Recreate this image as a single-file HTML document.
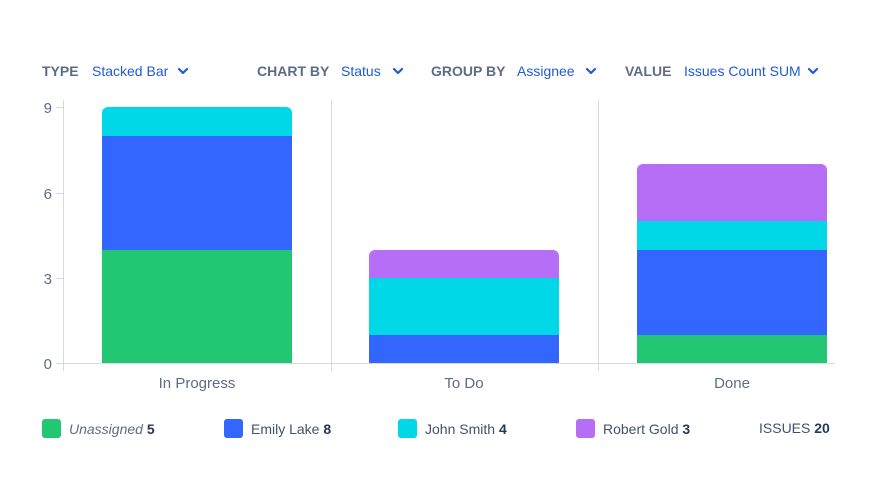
<!DOCTYPE html>
<html><head><style>
body{margin:0;background:#fff;width:870px;height:494px;overflow:hidden;font-family:"Liberation Sans",sans-serif}
</style></head><body>
<svg width="870" height="494" xmlns="http://www.w3.org/2000/svg" font-family="Liberation Sans, sans-serif">
<g font-size="14">
<text x="42" y="76" fill="#5e6c84" font-weight="bold">TYPE</text>
<text x="92" y="76" fill="#1f5bd6">Stacked Bar</text>
<text x="257" y="76" fill="#5e6c84" font-weight="bold">CHART BY</text>
<text x="341" y="76" fill="#1f5bd6">Status</text>
<text x="431" y="76" fill="#5e6c84" font-weight="bold">GROUP BY</text>
<text x="517" y="76" fill="#1f5bd6">Assignee</text>
<text x="625" y="76" fill="#5e6c84" font-weight="bold">VALUE</text>
<text x="684" y="76" fill="#1f5bd6">Issues Count SUM</text>
</g>
<g fill="none" stroke="#1f5bd6" stroke-width="2.2" stroke-linecap="round" stroke-linejoin="round">
<path d="M179 69l4 4 4-4"/><path d="M394 69l4 4 4-4"/><path d="M587 69l4 4 4-4"/><path d="M809 69l4 4 4-4"/>
</g>
<g stroke="#d6d9de" stroke-width="1">
<line x1="63.5" y1="100" x2="63.5" y2="371"/>
<line x1="331.5" y1="100" x2="331.5" y2="371"/>
<line x1="598.5" y1="100" x2="598.5" y2="371"/>
<line x1="56" y1="363.5" x2="835" y2="363.5"/>
<line x1="56" y1="278.5" x2="63" y2="278.5"/>
<line x1="56" y1="193.5" x2="63" y2="193.5"/>
<line x1="56" y1="107.5" x2="63" y2="107.5"/>
</g>
<g font-size="15" fill="#5e6c84" text-anchor="end">
<text x="52" y="369">0</text><text x="52" y="284">3</text><text x="52" y="199">6</text><text x="52" y="113">9</text>
</g>
<!-- In Progress -->
<path d="M102 249V113a6 6 0 0 1 6-6h178a6 6 0 0 1 6 6v136z" fill="#00d8e8"/>
<rect x="102" y="136" width="190" height="114" fill="#3366ff"/>
<rect x="102" y="250" width="190" height="113" fill="#23c673"/>
<!-- To Do -->
<path d="M369 278V256a6 6 0 0 1 6-6h178a6 6 0 0 1 6 6v22z" fill="#b76ef7"/>
<rect x="369" y="278" width="190" height="57" fill="#00d8e8"/>
<rect x="369" y="335" width="190" height="28" fill="#3366ff"/>
<!-- Done -->
<path d="M637 221V170a6 6 0 0 1 6-6h178a6 6 0 0 1 6 6v51z" fill="#b76ef7"/>
<rect x="637" y="221" width="190" height="29" fill="#00d8e8"/>
<rect x="637" y="250" width="190" height="85" fill="#3366ff"/>
<rect x="637" y="335" width="190" height="28" fill="#23c673"/>
<g font-size="15" fill="#5e6c84" text-anchor="middle">
<text x="197" y="388">In Progress</text><text x="464" y="388">To Do</text><text x="732" y="388">Done</text>
</g>
<g font-size="14" fill="#42526e">
<rect x="42" y="419" width="19" height="19" rx="3" fill="#23c673"/>
<text x="69" y="434"><tspan font-style="italic" fill="#5e6c84">Unassigned</tspan> <tspan font-weight="bold" fill="#253858">5</tspan></text>
<rect x="224" y="419" width="19" height="19" rx="3" fill="#3366ff"/>
<text x="251" y="434">Emily Lake <tspan font-weight="bold" fill="#253858">8</tspan></text>
<rect x="398" y="419" width="19" height="19" rx="3" fill="#00d8e8"/>
<text x="425" y="434">John Smith <tspan font-weight="bold" fill="#253858">4</tspan></text>
<rect x="576" y="419" width="19" height="19" rx="3" fill="#b76ef7"/>
<text x="603" y="434">Robert Gold <tspan font-weight="bold" fill="#253858">3</tspan></text>
<text x="759" y="433">ISSUES <tspan font-weight="bold" fill="#253858">20</tspan></text>
</g>
</svg>
</body></html>
